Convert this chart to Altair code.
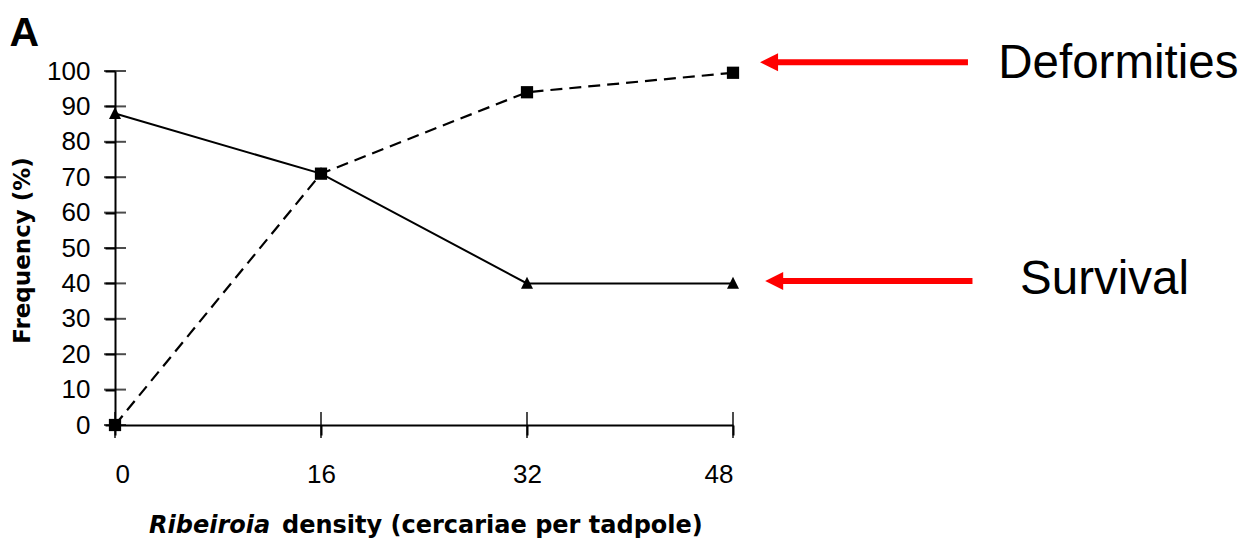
import altair as alt
import pandas as pd

# ---- data ----
density = [0, 16, 32, 48]
survival = [88, 71, 40, 40]
deformities = [0, 71, 94, 99.5]
y_ticks = [0, 10, 20, 30, 40, 50, 60, 70, 80, 90, 100]
x_ticks = [0, 16, 32, 48]

surv_df = pd.DataFrame({"x": density, "y": survival})
def_df = pd.DataFrame({"x": density, "y": deformities})
yt_df = pd.DataFrame({"x": [0] * len(y_ticks), "y": y_ticks})
xt_df = pd.DataFrame({"x": x_ticks, "y": [0] * len(x_ticks)})

# annotation placement (data units)
arrows = pd.DataFrame({
    "x": [51.3, 51.7], "x2": [66.25, 66.6], "y": [102.5, 40.7],
    "hx": [50.8, 51.2],
})
labels_df = pd.DataFrame({"x": [68.6, 70.3], "y": [98.0, 37.0],
                          "t": ["Deformities", "Survival"]})

FONT = "DejaVu Sans"
TICKFONT = "Liberation Sans"
xs = alt.Scale(domain=[0, 48], nice=False, zero=False)
ys = alt.Scale(domain=[0, 100], nice=False, zero=False)
xaxis = alt.Axis(values=x_ticks, title=None, grid=False, tickSize=10, tickWidth=2,
                 tickColor="black", domainColor="black", domainWidth=2,
                 labelFont=TICKFONT, labelFontSize=26, labelColor="black", labelPadding=26)
yaxis = alt.Axis(values=y_ticks, title="Frequency (%)", grid=False, tickSize=10, tickWidth=2,
                 tickColor="black", domainColor="black", domainWidth=2,
                 labelFont=TICKFONT, labelFontSize=26, labelColor="black", labelPadding=15,
                 titleFont=FONT, titleFontSize=23, titleFontWeight="bold", titleColor="black",
                 titleAngle=270, titleAlign="center", titleBaseline="middle",
                 titleX=-93, titleY=179)

def X(f="x"):
    return alt.X(f"{f}:Q", scale=xs, axis=xaxis)

def Y(f="y"):
    return alt.Y(f"{f}:Q", scale=ys, axis=yaxis)

surv_line = alt.Chart(surv_df).mark_line(color="black", strokeWidth=2).encode(x=X(), y=Y())
def_line = alt.Chart(def_df).mark_line(color="black", strokeWidth=2.2, strokeDash=[12, 7]).encode(x=X(), y=Y())
surv_pts = alt.Chart(surv_df).mark_point(shape="M-1,0.9L1,0.9L0,-1.1Z", size=144, filled=True,
                                         color="black", opacity=1).encode(x=X(), y=Y())
def_pts = alt.Chart(def_df).mark_point(shape="square", size=150, filled=True,
                                       color="black", opacity=1).encode(x=X(), y=Y())

ytick = alt.Chart(yt_df).mark_tick(orient="horizontal", size=22, thickness=2, color="black").encode(x=X(), y=Y())
xtick = alt.Chart(xt_df).mark_tick(orient="vertical", size=26, thickness=2, color="black").encode(x=X(), y=Y())

shaft = alt.Chart(arrows).mark_rule(color="#ff0000", strokeWidth=6).encode(x=X(), x2="x2:Q", y=Y())
head = alt.Chart(arrows).mark_point(shape="M-1,0L1,-1L1,1Z", size=324, filled=True,
                                    color="#ff0000", opacity=1).encode(x=X("hx"), y=Y())
ann = alt.Chart(labels_df).mark_text(font="Liberation Sans", fontSize=47.5, align="left",
                                     baseline="alphabetic", color="black").encode(
    x=X(), y=Y(), text="t:N")

panel = alt.Chart(pd.DataFrame({"x": [-8.2], "y": [107.2], "t": ["A"]})).mark_text(
    font="Liberation Sans", fontSize=41, fontWeight="bold", align="left",
    baseline="alphabetic", color="black").encode(x=X(), y=Y(), text="t:N")

xt1 = alt.Chart(pd.DataFrame({"x": [2.64], "y": [-30.5], "t": ["Ribeiroia"]})).mark_text(
    font=FONT, fontSize=24, fontWeight="bold", fontStyle="italic", align="left",
    baseline="alphabetic", color="black").encode(x=X(), y=Y(), text="t:N")
xt2 = alt.Chart(pd.DataFrame({"x": [12.97], "y": [-30.5], "t": ["density (cercariae per tadpole)"]})).mark_text(
    font=FONT, fontSize=24, fontWeight="bold", align="left",
    baseline="alphabetic", color="black").encode(x=X(), y=Y(), text="t:N")

chart = alt.layer(
    ytick, xtick, surv_line, def_line, surv_pts, def_pts, shaft, head, ann, panel, xt1, xt2
).properties(
    width=618, height=354,
    autosize=alt.AutoSizeParams(type="none"),
    padding={"left": 107, "top": 63, "right": 505, "bottom": 113},
    background="white",
).configure_view(stroke=None)

chart.save("out.html", embed_options={"renderer": "svg", "actions": False})
